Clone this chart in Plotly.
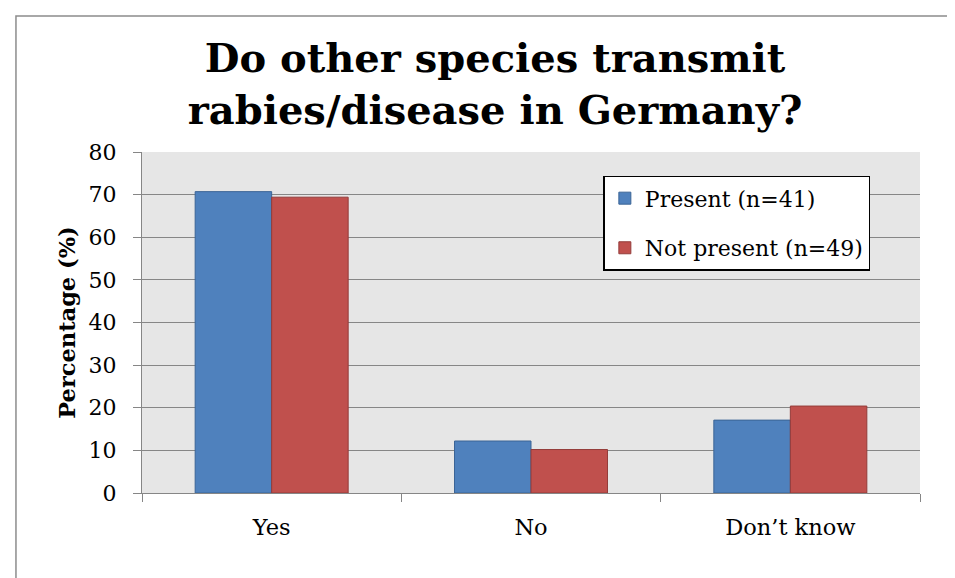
import plotly.graph_objects as go

categories = ["Yes", "No", "Don’t know"]
present = [70.7, 12.2, 17.1]
not_present = [69.4, 10.2, 20.4]
series_names = ["Present (n=41)", "Not present (n=49)"]
y_ticks = [0, 10, 20, 30, 40, 50, 60, 70, 80]

FONT = "DejaVu Serif"

fig = go.Figure()
fig.add_trace(go.Bar(x=categories, y=present, name=series_names[0], legendgroup="a",
                     marker=dict(color="#4f81bd", line=dict(color="#3b6496", width=1))))
fig.add_trace(go.Bar(x=categories, y=not_present, name=series_names[1], legendgroup="b",
                     marker=dict(color="#c0504d", line=dict(color="#943c3a", width=1))))

fig.update_layout(
    width=955, height=578,
    margin=dict(l=134, r=43, t=144, b=93),
    paper_bgcolor="white",
    plot_bgcolor="#e6e6e6",
    barmode="group", bargap=0.41, bargroupgap=0,
    font=dict(family=FONT, color="black", size=22),
    title=dict(text="<b>Do other species transmit<br>rabies/disease in Germany?</b>",
               x=0.51, xref="container", xanchor="center",
               y=0.89, yref="container", yanchor="top",
               font=dict(family=FONT, size=40, color="black"), automargin=False),
    legend=dict(x=0.593, y=0.93, xanchor="left", yanchor="top",
                bgcolor="white", bordercolor="black", borderwidth=1.5,
                font=dict(family=FONT, size=22), traceorder="grouped",
                tracegroupgap=18),
    showlegend=True,
)
fig.update_yaxes(range=[0, 80], tickvals=y_ticks, showgrid=True, gridcolor="#868686",
                 gridwidth=1, ticks="outside", ticklen=8, tickcolor="#868686",
                 showline=True, linecolor="#868686", linewidth=1,
                 ticklabelstandoff=12, tickfont=dict(size=22), automargin=False,
                 title=dict(text="<b>Percentage (%)</b>", font=dict(size=22.5), standoff=6),
                 zeroline=False)
fig.update_xaxes(tickson="boundaries", ticks="outside", ticklen=8, tickcolor="#868686",
                 showline=True, linecolor="#868686", linewidth=1, showgrid=False,
                 ticklabelstandoff=14, tickfont=dict(size=22.5), automargin=False)

# outer chart border
fig.add_shape(type="rect", xref="paper", yref="paper",
              x0=-0.162, x1=1.049, y0=-0.32, y1=1.399,
              line=dict(color="#8c8c8c", width=1.5), fillcolor="rgba(0,0,0,0)", layer="below")

fig.write_html("out.html")
